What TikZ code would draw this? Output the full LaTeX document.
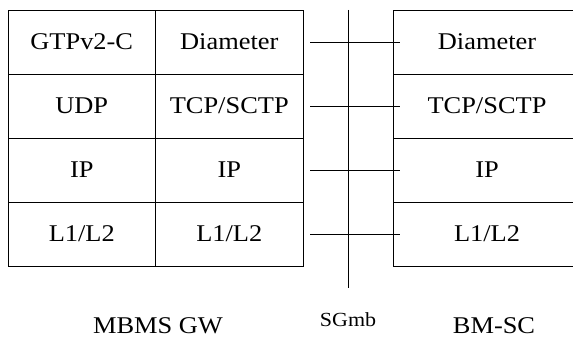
\documentclass[tikz,border=0pt]{standalone}
\usepackage{fontspec}
\setmainfont{Liberation Serif}[FakeStretch=1.1]
\usetikzlibrary{positioning}

\begin{document}
\begin{tikzpicture}[x=1pt,y=1pt,
layernode/.style={rectangle, draw=black, line width=0.75pt, minimum width=147.5pt, minimum height=64pt, inner sep=0pt, text height=15.9pt, text depth=0pt, font=\fontsize{24}{28}\selectfont},
widenode/.style={layernode, minimum width=188pt},
entitylabel/.style={anchor=base, inner sep=0pt, font=\fontsize{24}{28}\selectfont},
link/.style={draw=black, line width=0.75pt},
node distance=64pt,on grid,
]
\useasboundingbox (0,0) rectangle (573,338);
%% MBMS GW stack
\node[layernode] (gtp) at (81.75,296) {GTPv2-C};
\node[layernode] (udp) [below=of gtp] {UDP};
\node[layernode] (ipa) [below=of udp] {IP};
\node[layernode] (l1a) [below=of ipa] {L1/L2};
\node[layernode] (diaa) [right=147.5pt of gtp] {Diameter};
\node[layernode] (tcpa) [below=of diaa] {TCP/SCTP};
\node[layernode] (ipb) [below=of tcpa] {IP};
\node[layernode] (l1b) [below=of ipb] {L1/L2};
%% BM-SC stack
\node[widenode] (diab) [right=257.75pt of diaa] {Diameter};
\node[widenode] (tcpb) [below=of diab] {TCP/SCTP};
\node[widenode] (ipc) [below=of tcpb] {IP};
\node[widenode] (l1c) [below=of ipc] {L1/L2};
%%% 
%% Interface
\coordinate (sgtop) at (348,328);
\coordinate (sgbot) at (348,50);
\draw[link] (sgtop) -- (sgbot);
\draw[link] ([xshift=7pt]diaa.east) -- ([xshift=7pt]diab.west);
\draw[link] ([xshift=7pt]tcpa.east) -- ([xshift=7pt]tcpb.west);
\draw[link] ([xshift=7pt]ipb.east) -- ([xshift=7pt]ipc.west);
\draw[link] ([xshift=7pt]l1b.east) -- ([xshift=7pt]l1c.west);
%% Labels
\node[entitylabel] (gw) at (158,5) {MBMS GW};
\node[entitylabel, font=\fontsize{20}{24}\selectfont] (sgmb) at (348,12) {SGmb};
\node[entitylabel] (bmsc) at (494,5) {BM-SC};
\end{tikzpicture}
\end{document}
